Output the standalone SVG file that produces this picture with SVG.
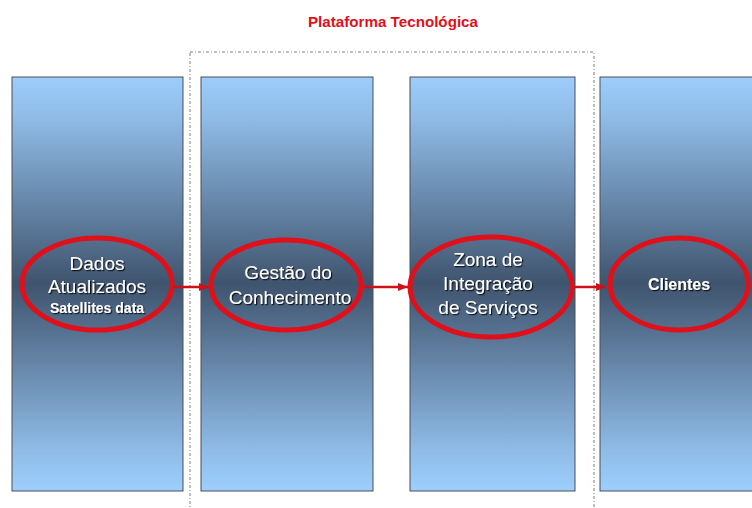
<svg xmlns="http://www.w3.org/2000/svg" width="752" height="508" viewBox="0 0 752 508">
<style>
.col{fill:url(#g);stroke:#4a4f58;stroke-width:1}
.ring{fill:none;stroke:#e0101a;stroke-width:5}
.t{font-family:"Liberation Sans",Arial,sans-serif;fill:#fff;text-anchor:middle;filter:url(#sh)}
.big{font-size:19px}
.sm{font-size:14px;font-weight:bold}
.conn{stroke:#d01018;stroke-width:2.5;fill:none;marker-end:url(#ah)}
</style>
<defs>
<linearGradient id="g" x1="0" y1="0" x2="0" y2="1">
<stop offset="0" stop-color="#9dcdfc"/>
<stop offset="0.1" stop-color="#8fbbe6"/>
<stop offset="0.5" stop-color="#3f546e"/>
<stop offset="0.9" stop-color="#8fbbe6"/>
<stop offset="1" stop-color="#9dcffd"/>
</linearGradient>
<filter id="sh" x="-10%" y="-20%" width="130%" height="150%">
<feDropShadow dx="1.2" dy="1.2" stdDeviation="0.6" flood-color="#000" flood-opacity="0.8"/>
</filter>
<marker id="ah" markerWidth="10" markerHeight="10" refX="10" refY="5" orient="auto" markerUnits="userSpaceOnUse">
<path d="M0,1 L10,5 L0,9 Z" fill="#d01018"/>
</marker>
</defs>
<rect width="752" height="508" fill="#fff"/>
<text x="393" y="27" font-family="'Liberation Sans Narrow','Liberation Sans',Arial,sans-serif" font-size="15" font-weight="bold" fill="#e0101a" text-anchor="middle" textLength="170" lengthAdjust="spacingAndGlyphs">Plataforma Tecnológica</text>
<rect id="platform" x="190" y="52" width="404" height="470" fill="none" stroke="#7a7a7a" stroke-width="1" stroke-dasharray="3,2,1,2"/>
<g id="dados">
<rect class="col" x="12" y="77" width="171" height="414"/>
<text class="t big" x="97" y="270">Dados</text>
<text class="t big" x="97" y="293">Atualizados</text>
<text class="t sm" x="97" y="313">Satellites data</text>
<ellipse class="ring" cx="97" cy="284" rx="75" ry="46"/>
</g>
<g id="gestao">
<rect class="col" x="201" y="77" width="172" height="414"/>
<text class="t big" x="288" y="279">Gestão do</text>
<text class="t big" x="290" y="304">Conhecimento</text>
<ellipse class="ring" cx="286" cy="285" rx="75" ry="45"/>
</g>
<g id="zona">
<rect class="col" x="410" y="77" width="165" height="414"/>
<text class="t big" x="488" y="266">Zona de</text>
<text class="t big" x="488" y="290">Integração</text>
<text class="t big" x="488" y="314">de Serviços</text>
<ellipse class="ring" cx="491" cy="287" rx="81" ry="50"/>
</g>
<g id="clientes">
<rect class="col" x="600" y="77" width="160" height="414"/>
<text class="t sm" x="679" y="290" style="font-size:16px">Clientes</text>
<ellipse class="ring" cx="679" cy="284" rx="69" ry="46"/>
</g>
<g id="connectors">
<line class="conn" x1="173" y1="287" x2="209" y2="287"/>
<line class="conn" x1="364" y1="287" x2="408" y2="287"/>
<line class="conn" x1="574" y1="287" x2="606" y2="287"/>
</g>
</svg>
